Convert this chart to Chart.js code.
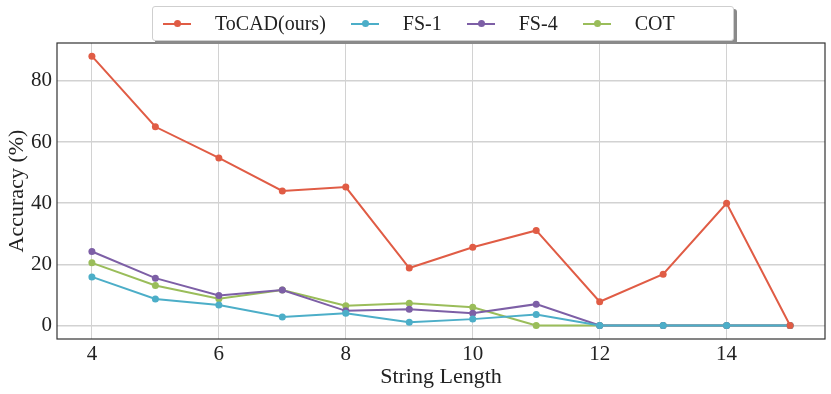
<!DOCTYPE html>
<html>
<head>
<meta charset="utf-8">
<script src="https://cdn.jsdelivr.net/npm/chart.js@4/dist/chart.umd.min.js"></script>
<style>
    body { margin: 0; background: #fff; }
    #wrap { position: relative; width: 831px; height: 394px; }
    #legend {
        position: absolute; left: 152px; top: 6px; width: 580px; height: 33px;
        border: 1px solid #cfcfcf; border-radius: 3px; background: #fff;
        box-shadow: 3px 3px 0 #8a8a8a;
        display: flex; align-items: center;
        font-family: 'Liberation Serif', serif; font-size: 20px; color: #222;
    }
    .item { display: flex; align-items: center; margin-left: 10px; margin-right: 15px; }
    .sw { position: relative; width: 28px; height: 2px; margin-right: 24px; }
    .sw i { position: absolute; left: 11px; top: -2.5px; width: 7px; height: 7px; border-radius: 50%; }
</style>
</head>
<body>
<div id="wrap">
    <canvas id="chart1" width="831" height="394"></canvas>
    <div id="legend"></div>
</div>
<script>
const lengths = [4, 5, 6, 7, 8, 9, 10, 11, 12, 13, 14, 15];
const tocad = [88.1, 65.0, 54.8, 44.0, 45.3, 18.8, 25.6, 31.1, 7.8, 16.8, 40.0, 0];
const fs1 = [15.9, 8.7, 6.7, 2.8, 4.0, 1.1, 2.1, 3.6, 0, 0, 0, 0];
const fs4 = [24.2, 15.5, 9.8, 11.6, 4.8, 5.3, 4.0, 7.0, 0, 0, 0, 0];
const cot = [20.5, 13.1, 8.8, 11.6, 6.5, 7.3, 6.0, 0, 0, 0, 0, 0];
const seriesNames = ['ToCAD(ours)', 'FS-1', 'FS-4', 'COT'];
const seriesColors = ['#E05C45', '#4CAEC8', '#7D5FA6', '#9ABD5A'];

const allSeries = [tocad, fs1, fs4, cot];
const fontFamily = "'Liberation Serif', serif";

const dataLine = {
    datasets: allSeries.map((vals, i) => ({
        label: seriesNames[i],
        data: vals.map((v, k) => ({ x: lengths[k], y: v })),
        borderColor: seriesColors[i],
        backgroundColor: seriesColors[i],
        borderWidth: 2,
        pointStyle: 'circle',
        pointRadius: 3.5,
        pointBorderWidth: 0,
        tension: 0
    }))
};

const frameBox = {
    id: 'frameBox',
    afterDatasetsDraw(chart) {
        const { ctx, chartArea: a } = chart;
        ctx.save();
        ctx.strokeStyle = '#333';
        ctx.lineWidth = 1.2;
        ctx.strokeRect(a.left, a.top, a.right - a.left, a.bottom - a.top);
        ctx.restore();
    }
};

const configLine = {
    type: 'line',
    data: dataLine,
    plugins: [frameBox],
    options: {
        responsive: false,
        animation: false,
        layout: { padding: { top: 43, right: 6, left: 0, bottom: 0 } },
        plugins: {
            legend: { display: false },
            tooltip: { enabled: false }
        },
        scales: {
            x: {
                type: 'linear',
                min: 3.45,
                max: 15.55,
                afterFit: (s) => { s.height = 55; },
                border: { display: false },
                grid: { color: '#d2d2d2', lineWidth: 1, drawTicks: false },
                ticks: {
                    stepSize: 2,
                    includeBounds: false,
                    padding: 3,
                    color: '#222',
                    font: { family: fontFamily, size: 21 }
                },
                title: {
                    display: true,
                    text: 'String Length',
                    color: '#222',
                    padding: { top: 0, bottom: 4 },
                    font: { family: fontFamily, size: 22 }
                }
            },
            y: {
                min: -4.4,
                max: 92.4,
                afterFit: (s) => { s.width = 57; },
                border: { display: false },
                grid: { color: '#d2d2d2', lineWidth: 1.5, drawTicks: false },
                ticks: {
                    stepSize: 20,
                    includeBounds: false,
                    padding: 5,
                    color: '#222',
                    font: { family: fontFamily, size: 21 }
                },
                title: {
                    display: true,
                    text: 'Accuracy (%)',
                    color: '#222',
                    padding: { top: 4, bottom: 0 },
                    font: { family: fontFamily, size: 22 }
                }
            }
        }
    }
};

const chartLine = new Chart(document.getElementById('chart1'), configLine);

// legend
const legendEl = document.getElementById('legend');
seriesNames.forEach((name, i) => {
    const item = document.createElement('div');
    item.className = 'item';
    item.innerHTML = '<span class="sw" style="background:' + seriesColors[i] + '"><i style="background:' +
        seriesColors[i] + '"></i></span><span>' + name + '</span>';
    legendEl.appendChild(item);
});
</script>
</body>
</html>
